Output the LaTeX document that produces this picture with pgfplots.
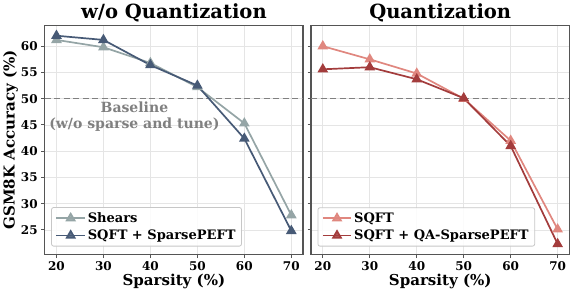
\documentclass[border=0pt]{standalone}
\usepackage{pgfplots}
\pgfplotsset{compat=1.18}
\usepackage{fontspec}
\setmainfont{DejaVu Serif}
\definecolor{shears}{HTML}{95A5A6}
\definecolor{slate}{HTML}{475A76}
\definecolor{salmon}{HTML}{E0877F}
\definecolor{dred}{HTML}{A33C3C}
\definecolor{spine}{HTML}{555555}
\definecolor{gridc}{HTML}{E5E5E5}
\pgfplotsset{
  common/.style={
    scale only axis, width=258pt, height=229pt,
    xmin=17.5, xmax=72.5, ymin=20.3, ymax=64,
    xtick={20,30,40,50,60,70}, ytick={25,30,...,60},
    grid=major, major grid style={gridc, line width=0.7pt},
    axis line style={spine, line width=1.2pt},
    tick style={spine, line width=1pt},
    tick align=outside, major tick length=3.5pt,
    xtick pos=bottom, ytick pos=left,
    /pgf/number format/assume math mode=true,
    tick label style={font=\fontsize{12}{14}\selectfont\bfseries},
    xlabel={Sparsity (\%)},
    xlabel style={yshift=3pt},
    label style={font=\fontsize{15}{17}\selectfont\bfseries},
    title style={font=\fontsize{19.5}{21}\selectfont\bfseries, yshift=-6pt},
    legend style={at={(0.025,0.035)}, anchor=south west, draw=gridc!70!gray, line width=0.8pt,
      rounded corners=2pt, fill=white, fill opacity=0.85, text opacity=1,
      font=\fontsize{13}{15}\selectfont\bfseries, row sep=2pt, inner xsep=4pt, inner ysep=3pt},
    legend cell align=left,
    legend image code/.code={
      \draw[mark repeat=2,mark phase=2] plot coordinates {(0cm,0cm) (0.5cm,0cm) (1.0cm,0cm)};
    },
  },
  ser/.style={line width=1.7pt, mark=triangle*, mark size=4.5pt, color=#1, mark options={solid}},
}
\begin{document}
\begin{tikzpicture}
\begin{axis}[common, name=left, title={w/o Quantization}, ylabel={GSM8K Accuracy (\%)}, ylabel style={yshift=-4pt}]
\addplot[gray, line width=1.3pt, dash pattern=on 6pt off 3.5pt, forget plot] coordinates {(17.5,50) (72.5,50)};
\addplot[ser=shears] coordinates {(20,61.2) (30,59.8) (40,56.8) (50,52.2) (60,45.3) (70,27.8)};
\addplot[ser=slate] coordinates {(20,62.0) (30,61.2) (40,56.4) (50,52.5) (60,42.4) (70,24.8)};
\legend{Shears, SQFT + SparsePEFT}
\node[text=gray, font=\fontsize{14}{15.5}\selectfont\bfseries, align=center] at (axis cs:36.6,46.6) {Baseline\\(w/o sparse and tune)};
\end{axis}
\begin{axis}[common, at={(266pt,0)}, title={Quantization}, yticklabels={}]
\addplot[gray, line width=1.3pt, dash pattern=on 6pt off 3.5pt, forget plot] coordinates {(17.5,50) (72.5,50)};
\addplot[ser=salmon] coordinates {(20,60.0) (30,57.5) (40,54.8) (50,50.0) (60,42.0) (70,25.1)};
\addplot[ser=dred] coordinates {(20,55.6) (30,56.0) (40,53.7) (50,50.1) (60,41.0) (70,22.3)};
\legend{SQFT, SQFT + QA-SparsePEFT}
\end{axis}
\end{tikzpicture}
\end{document}
